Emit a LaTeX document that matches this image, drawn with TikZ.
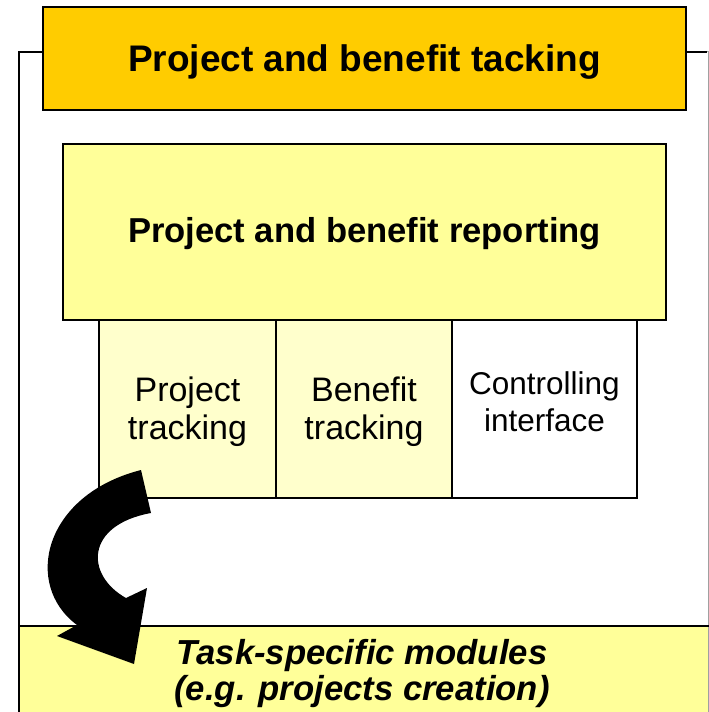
\documentclass[tikz,border=0pt]{standalone}
\usepackage{fontspec}
\setmainfont{Liberation Sans}
\definecolor{trackorange}{HTML}{FFCC00}
\definecolor{reportyellow}{HTML}{FFFF99}
\definecolor{paleyellow}{HTML}{FFFFCC}
\definecolor{framegrey}{HTML}{A0A0A0}
\tikzset{
  box/.style={draw=black, line width=1.6pt, inner sep=0pt, outer sep=0pt},
  subbox/.style={box, minimum height=178pt},
  caption/.style={inner sep=0pt, align=center},
  subtext/.style={caption, font=\fontsize{34}{38}\selectfont},
}
\begin{document}
\begin{tikzpicture}[x=1pt, y=-1pt]
  \useasboundingbox (0,0) rectangle (709,712);

  % outer frame around the module stack
  \draw[black, line width=1.6pt] (43,51.7) -- (19,51.7) -- (19,626);
  \draw[black, line width=1.6pt] (686,51.7) -- (707,51.7);
  \draw[framegrey, line width=1pt] (707,51.7) -- (708.3,51.7) -- (708.3,626);

  % header
  \node[box, fill=trackorange, minimum width=643pt, minimum height=103pt]
        (head) at (364.5,58.5) {};
  \node[caption, font=\fontsize{37}{40}\selectfont\bfseries] (headtext)
        at (364.5,62) {Project and benefit tacking};

  % reporting layer
  \node[box, fill=reportyellow, minimum width=603pt, minimum height=176pt]
        (report) at (364.5,232) {};
  \node[caption, font=\fontsize{34.6}{38}\selectfont\bfseries] (reporttext)
        at (364.5,234) {Project and benefit reporting};

  % tracking modules
  \node[subbox, fill=paleyellow, minimum width=177pt] (ptrack) at (187.5,409) {};
  \node[subbox, fill=paleyellow, minimum width=176pt] (btrack) at (364,409) {};
  \node[subbox, fill=white, minimum width=185pt] (ctrl) at (544.5,409) {};
  \node[subtext] (ptracktext) at (187.5,412) {Project\\tracking};
  \node[subtext] (btracktext) at (364,412) {Benefit\\tracking};
  \node[caption, font=\fontsize{31.5}{37}\selectfont]
        (ctrltext) at (544.5,401.5) {Controlling\\interface};

  % task-specific modules strip
  \fill[reportyellow] (19,626) rectangle (709,712);
  \draw[framegrey, line width=1pt] (708.3,626) -- (708.3,712);
  \draw[black, line width=1.6pt] (19,712) -- (19,626) -- (709,626);
  \node[caption, font=\fontsize{34.7}{36}\selectfont\bfseries\itshape]
        (tasks) at (362,673.5) {Task-specific modules\\(e.g. projects creation)};

  % curved block arrow from the tracking modules down to the task modules
  \fill[black] (141,470)
     .. controls (43,495) and (23,585) .. (77,625)
     -- (57,636) -- (134,664) -- (147,588) -- (126,598)
     .. controls (85,575) and (85,525) .. (151,513)
     -- cycle;
\end{tikzpicture}
\end{document}
